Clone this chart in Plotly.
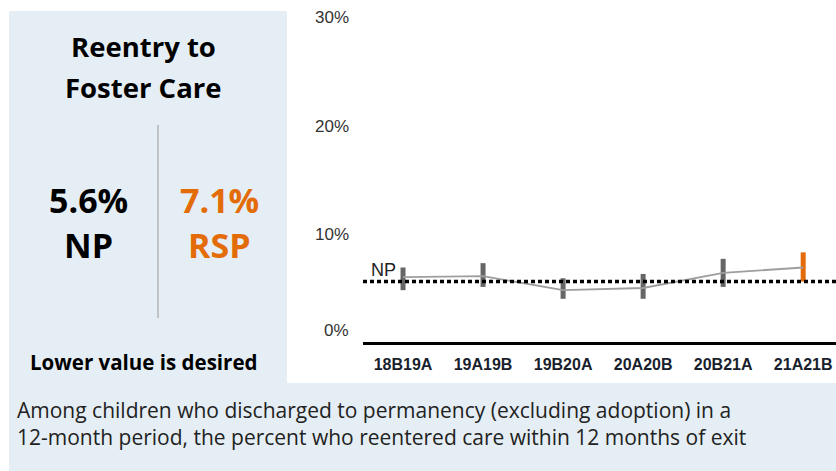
import plotly.graph_objects as go

# datos del gráfico
periods = ["18B19A", "19A19B", "19B20A", "20A20B", "20B21A", "21A21B"]
rate = [6.0, 6.1, 4.8, 5.0, 6.4, 6.9]
upper = [6.9, 7.3, 5.9, 6.3, 7.7, 8.3]
lower = [4.8, 5.1, 4.0, 4.0, 5.1, 5.6]
np_value = 5.6
y_ticks = [0, 10, 20, 30]
y_tick_text = ["0%", "10%", "20%", "30%"]

np_text = "5.6%"
rsp_text = "7.1%"

W, H = 836, 471
orange = "#E36C09"
panel_bg = "#E5EEF4"


def px(x):
    return x / W


def py(y):
    return 1 - y / H


err_plus = [u - r for u, r in zip(upper, rate)]
err_minus = [r - l for r, l in zip(rate, lower)]

fig = go.Figure()

# barras de intervalo (grises) y la última en naranja
fig.add_trace(go.Scatter(
    x=periods[:-1], y=rate[:-1], mode="markers",
    marker=dict(size=1, color="rgba(0,0,0,0)"),
    error_y=dict(type="data", array=err_plus[:-1], arrayminus=err_minus[:-1],
                 color="#666666", thickness=5, width=0),
    hoverinfo="skip", showlegend=False))
fig.add_trace(go.Scatter(
    x=periods[-1:], y=rate[-1:], mode="markers",
    marker=dict(size=1, color="rgba(0,0,0,0)"),
    error_y=dict(type="data", array=err_plus[-1:], arrayminus=err_minus[-1:],
                 color=orange, thickness=5, width=0),
    hoverinfo="skip", showlegend=False))

# línea que une los valores
fig.add_trace(go.Scatter(
    x=periods, y=rate, mode="lines",
    line=dict(color="#9E9E9E", width=1.8),
    showlegend=False))

# línea NP punteada
fig.add_shape(type="line", xref="x domain", yref="y",
              x0=0, x1=1, y0=np_value, y1=np_value,
              line=dict(color="black", width=3.5, dash="4px,3px"))
fig.add_annotation(xref="x domain", yref="y", x=0.012, y=np_value,
                   text="NP", showarrow=False, xanchor="left", yanchor="bottom",
                   yshift=0, font=dict(family="Arial", size=18, color="#222222"))

# etiquetas del eje y
for v, t in zip(y_ticks, y_tick_text):
    fig.add_annotation(xref="paper", yref="y", x=px(351), y=v, text=t,
                       showarrow=False, xanchor="right", yanchor="middle",
                       yshift=12 if v == 0 else 0,
                       font=dict(family="Arial", size=17, color="#333333"))

# fondos
fig.add_shape(type="rect", xref="paper", yref="paper", layer="below",
              x0=px(9), x1=1, y0=0, y1=py(11),
              line=dict(width=0), fillcolor=panel_bg)
fig.add_shape(type="rect", xref="paper", yref="paper", layer="below",
              x0=px(287), x1=1, y0=py(383), y1=1,
              line=dict(width=0), fillcolor="white")
# separador
fig.add_shape(type="line", xref="paper", yref="paper",
              x0=px(158), x1=px(158), y0=py(125), y1=py(318),
              line=dict(color="#A8A8A8", width=1.2))

seg = "Open Sans"
panel_texts = [
    ("Reentry to", 143, 47, 27.5, "black"),
    ("Foster Care", 143, 88, 27.5, "black"),
    (np_text, 88, 200, 34, "black"),
    ("NP", 88, 245, 34, "black"),
    (rsp_text, 219, 200, 34, orange),
    ("RSP", 219, 245, 34, orange),
    ("Lower value is desired", 143, 362, 20.5, "black"),
]
for t, x, y, s, c in panel_texts:
    fig.add_annotation(xref="paper", yref="paper", x=px(x), y=py(y), text="<b>%s</b>" % t,
                       showarrow=False, xanchor="center", yanchor="middle",
                       font=dict(family=seg, size=s, color=c))

fig.add_annotation(xref="paper", yref="paper", x=px(15), y=py(423),
                   text="Among children who discharged to permanency (excluding adoption) in a"
                        "<br>12-month period, the percent who reentered care within 12 months of exit",
                   showarrow=False, xanchor="left", yanchor="middle", align="left",
                   font=dict(family=seg, size=21, color="#222222"))

fig.update_xaxes(type="category", range=[-0.5, 5.41],
                 domain=[px(363), 1],
                 showline=True, linecolor="black", linewidth=3,
                 showgrid=False, zeroline=False, ticks="",
                 ticklabelstandoff=6,
                 tickfont=dict(family="Arial", size=16, color="#1A1F2E", weight="bold"))
fig.update_yaxes(range=[0, 30], domain=[py(342), py(18)],
                 showgrid=False, zeroline=False, showline=False,
                 showticklabels=False, ticks="")

fig.update_layout(
    width=W, height=H,
    margin=dict(l=0, r=0, t=0, b=0),
    paper_bgcolor="white",
    plot_bgcolor="rgba(0,0,0,0)",
    showlegend=False,
)

# quitar el margen del body para que la figura ocupe toda la ventana
fig.write_html("out.html", config={"displayModeBar": False},
               post_script="document.body.style.margin='0';")
